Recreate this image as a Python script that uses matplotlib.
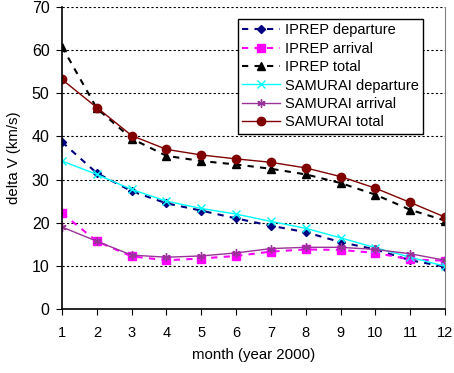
import matplotlib
matplotlib.use("Agg")
import matplotlib.pyplot as plt

months = list(range(1, 13))

iprep_dep = [38.7, 31.5, 27.3, 24.5, 22.8, 21.0, 19.3, 17.8, 15.5, 13.8, 11.3, 9.8]
iprep_arr = [22.2, 15.7, 12.2, 11.3, 11.7, 12.3, 13.3, 13.8, 13.7, 13.0, 11.5, 11.2]
iprep_tot = [60.8, 46.5, 39.5, 35.5, 34.3, 33.5, 32.5, 31.2, 29.2, 26.5, 23.0, 20.5]
sam_dep = [34.3, 31.2, 27.7, 25.0, 23.3, 22.0, 20.3, 18.7, 16.5, 14.2, 12.0, 9.9]
sam_arr = [19.0, 15.7, 12.5, 12.0, 12.3, 13.0, 14.0, 14.3, 14.3, 13.8, 12.8, 11.3]
sam_tot = [53.2, 46.7, 40.2, 37.0, 35.7, 34.8, 34.0, 32.7, 30.7, 28.0, 24.7, 21.3]

plt.rcParams['font.family'] = ['Liberation Sans', 'DejaVu Sans']

fig = plt.figure(figsize=(4.54, 3.73), dpi=100)
ax = fig.add_axes([0.1366, 0.1716, 0.8436, 0.8096])

dash = (0, (3, 3))
ax.plot(months, iprep_dep, color='#000080', ls=dash, lw=1.5, marker='D', ms=4,
        label='IPREP departure')
ax.plot(months, iprep_arr, color='#ff00ff', ls=dash, lw=1.5, marker='s', ms=6,
        label='IPREP arrival')
ax.plot(months, iprep_tot, color='black', ls=dash, lw=1.5, marker='^', ms=6,
        label='IPREP total')
ax.plot(months, sam_dep, color='#00ffff', lw=1, marker='x', ms=6, mew=1,
        label='SAMURAI departure')
ax.plot(months, sam_arr, color='#993399', lw=1, marker=(6, 2, 0), ms=6, mew=1,
        label='SAMURAI arrival')
ax.plot(months, sam_tot, color='#800000', lw=1, marker='o', ms=6,
        label='SAMURAI total')

ax.set_xlim(1, 12)
ax.set_ylim(0, 70)
ax.set_xticks(months)
ax.set_yticks(range(0, 71, 10))
ax.yaxis.grid(True, ls=(0, (2, 2)), color='black', lw=0.8)
ax.set_axisbelow(True)
ax.spines['top'].set_visible(False)
ax.spines['right'].set_color('#808080')
ax.spines['left'].set_linewidth(1.2)
ax.spines['bottom'].set_linewidth(1.2)
ax.tick_params(axis='both', length=4, direction='out')
ax.tick_params(axis='x', labelsize=10.5, pad=8)
ax.tick_params(axis='y', labelsize=11.5, pad=5)

ax.set_xlabel('month (year 2000)', fontsize=10.8, labelpad=6)
ax.set_ylabel('delta V (km/s)', fontsize=10.8, labelpad=8)

leg = ax.legend(loc='upper right', bbox_to_anchor=(0.9426, 0.96), fontsize=10.5,
                frameon=True, fancybox=False, edgecolor='black', framealpha=1,
                handlelength=2.6, borderpad=0.3, labelspacing=0.3,
                handletextpad=0.3, borderaxespad=0)
leg.get_frame().set_linewidth(1)

fig.savefig('out.png', dpi=100)
